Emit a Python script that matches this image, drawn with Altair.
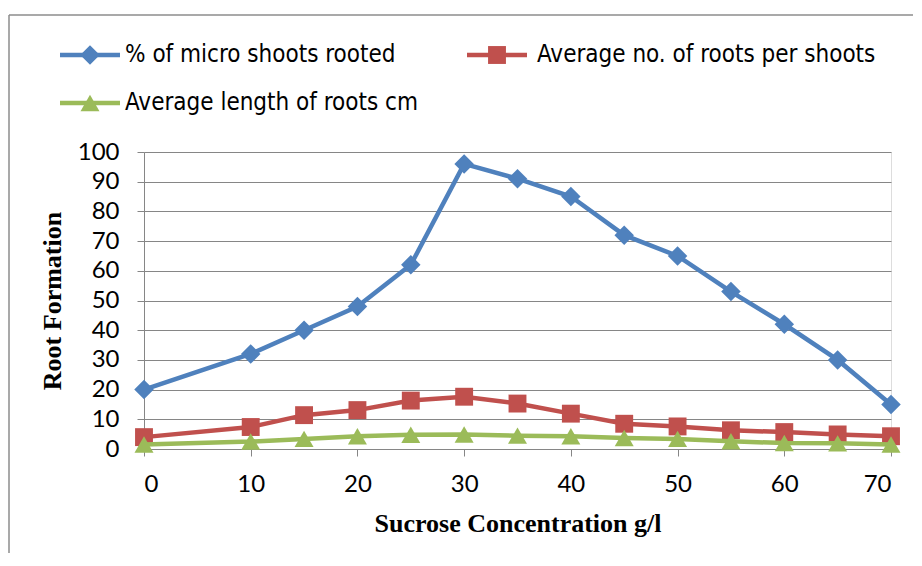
import altair as alt
import pandas as pd

conc = [0, 10, 15, 20, 25, 30, 35, 40, 45, 50, 55, 60, 65, 70]
pct_rooted = [20, 32, 40, 48, 62, 96, 91, 85, 72, 65, 53, 42, 30, 15]
avg_roots = [4.0, 7.4, 11.4, 13.1, 16.3, 17.6, 15.3, 11.9, 8.5, 7.6, 6.3, 5.7, 4.9, 4.3]
avg_length = [1.5, 2.5, 3.4, 4.3, 4.8, 4.9, 4.5, 4.3, 3.7, 3.4, 2.6, 2.0, 1.9, 1.5]
series_names = ["% of micro shoots rooted", "Average no. of roots per shoots", "Average length of roots cm"]
colors = ["#4F81BD", "#C0504D", "#9BBB59"]
shapes = ["diamond", "square", "triangle-up"]
sizes = [380, 320, 360]

FONT = "Liberation Sans Narrow, DejaVu Sans Condensed, Liberation Sans, sans-serif"
TICKFONT = "Lato, Open Sans, sans-serif"
SERIF = "Liberation Serif, Times New Roman, serif"

W, H = 747, 297
PL, PT = 136, 144
PR = 905 - PL - W
PB = 545 - PT - H

x_enc = alt.X("x:Q", scale=alt.Scale(domain=[0, 70], nice=False),
              axis=alt.Axis(values=[0, 10, 20, 30, 40, 50, 60, 70], grid=False,
                            title="Sucrose Concentration g/l", titleFont=SERIF,
                            titleFontSize=26, titleFontWeight="bold", titleColor="black",
                            titlePadding=14, labelFont=TICKFONT, labelFontSize=24,
                            labelColor="black", labelPadding=16, tickSize=7,
                            tickColor="#868686", domainColor="#868686"))
y_enc = alt.Y("y:Q", scale=alt.Scale(domain=[0, 100], nice=False),
              axis=alt.Axis(values=list(range(0, 101, 10)), grid=True, gridColor="#868686",
                            title="Root Formation", titleFont=SERIF, titleFontSize=26,
                            titleFontWeight="bold", titleColor="black", titlePadding=12,
                            labelFont=TICKFONT, labelFontSize=24, labelColor="black",
                            labelPadding=18, tickSize=7, tickColor="#868686",
                            domainColor="#868686"))

layers = []
fd = pd.DataFrame({"a": [0]})
# outer chart frame (top and left edges; right and bottom run off the picture)
layers.append(alt.Chart(fd).mark_rule(color="#8c8c8c", strokeWidth=1.5).encode(
    x=alt.value(-135), x2=alt.value(PR + W + 10), y=alt.value(-137)))
layers.append(alt.Chart(fd).mark_rule(color="#8c8c8c", strokeWidth=1.5).encode(
    x=alt.value(-135), y=alt.value(-137), y2=alt.value(H + PB + 10)))

for vals, name, c, s, sz in zip([pct_rooted, avg_roots, avg_length], series_names, colors, shapes, sizes):
    df = pd.DataFrame({"x": conc, "y": vals, "s": name})
    base = alt.Chart(df).encode(x=x_enc, y=y_enc)
    layers.append(base.mark_line(color=c, strokeWidth=4.5))
    layers.append(base.mark_point(shape=s, filled=True, opacity=1, color=c, size=sz))

leg_pos = [(-84, -97, -19), (323, -97, 393), (-84, -49, -19)]
for (lx, ly, tx), name, c, s, sz in zip(leg_pos, series_names, colors, shapes, sizes):
    d = pd.DataFrame({"t": [name]})
    layers.append(alt.Chart(d).mark_rule(color=c, strokeWidth=4.5).encode(
        x=alt.value(lx), x2=alt.value(lx + 60), y=alt.value(ly)))
    layers.append(alt.Chart(d).mark_point(shape=s, filled=True, opacity=1, color=c, size=sz).encode(
        x=alt.value(lx + 30), y=alt.value(ly)))
    layers.append(alt.Chart(d).mark_text(align="left", baseline="middle", font=FONT,
                                         fontSize=24, color="black").encode(
        x=alt.value(tx), y=alt.value(ly), text="t:N"))

chart = alt.layer(*layers).properties(
    width=W, height=H, autosize="none",
    padding={"left": PL, "top": PT, "right": PR, "bottom": PB},
).configure_view(stroke=None).configure(background="white")

chart.save("out.html", embed_options={"renderer": "svg", "actions": False})
